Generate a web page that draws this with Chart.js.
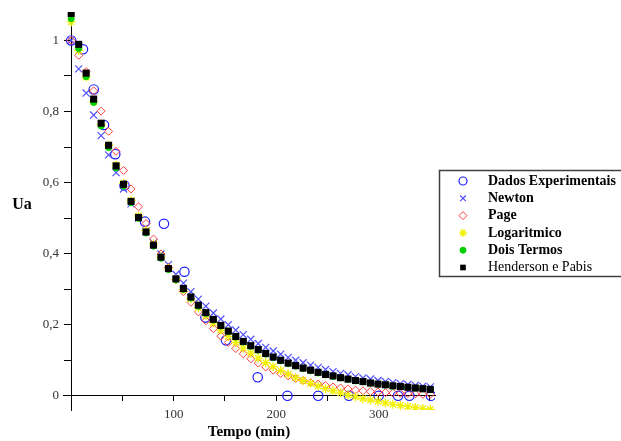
<!DOCTYPE html>
<html>
<head>
<meta charset="utf-8">
<script src="https://cdn.jsdelivr.net/npm/chart.js"></script>
<style>
  html, body { margin: 0; padding: 0; background: #ffffff; }
  #wrap { width: 621px; height: 441px; }
</style>
</head>
<body>
<div id="wrap"><canvas id="chart" width="621" height="441"></canvas></div>
<script>
// dados experimentais (tempo em min, razão de umidade)
const expTimes = [0, 11.5, 22, 32, 43, 52, 72, 90.5, 110.5, 131, 151, 182, 211, 241, 271, 300, 319, 330, 351];
const expValues = [1.0, 0.975, 0.862, 0.762, 0.68, 0.592, 0.49, 0.484, 0.349, 0.22, 0.156, 0.052, 0, 0, 0, 0, 0, 0, 0];

// tempos em que os modelos foram plotados
const modelTimes = [
  0, 7.3, 14.6, 21.9, 29.2, 36.5, 43.8, 51.1, 58.4, 65.7,
  73, 80.3, 87.6, 94.9, 102.2, 109.5, 116.8, 124.1, 131.4, 138.7,
  146, 153.3, 160.6, 167.9, 175.2, 182.5, 189.8, 197.1, 204.4, 211.7,
  219, 226.3, 233.6, 240.9, 248.2, 255.5, 262.8, 270.1, 277.4, 284.7,
  292, 299.3, 306.6, 313.9, 321.2, 328.5, 335.8, 343.1, 350.4
];

const newton = [
  1.000, 0.920, 0.852, 0.790, 0.732, 0.678, 0.628, 0.582, 0.540, 0.500,
  0.464, 0.430, 0.399, 0.369, 0.342, 0.317, 0.293, 0.272, 0.252, 0.233,
  0.216, 0.200, 0.185, 0.172, 0.159, 0.147, 0.136, 0.126, 0.117, 0.108,
  0.100, 0.093, 0.086, 0.080, 0.074, 0.068, 0.063, 0.059, 0.054, 0.050,
  0.047, 0.043, 0.040, 0.037, 0.034, 0.032, 0.029, 0.027, 0.025
];

const page = [
  1.000, 0.958, 0.912, 0.858, 0.801, 0.744, 0.688, 0.634, 0.582, 0.532,
  0.485, 0.441, 0.399, 0.361, 0.326, 0.293, 0.263, 0.236, 0.211, 0.189,
  0.168, 0.150, 0.133, 0.118, 0.104, 0.092, 0.081, 0.072, 0.063, 0.056,
  0.049, 0.043, 0.037, 0.033, 0.029, 0.025, 0.022, 0.019, 0.016, 0.014,
  0.012, 0.011, 0.009, 0.008, 0.007, 0.006, 0.005, 0.004, 0.004
];

const logaritmico = [
  1.052, 0.972, 0.897, 0.828, 0.764, 0.705, 0.649, 0.598, 0.550, 0.506,
  0.465, 0.427, 0.391, 0.358, 0.328, 0.299, 0.273, 0.248, 0.226, 0.205,
  0.185, 0.167, 0.150, 0.134, 0.120, 0.106, 0.093, 0.082, 0.071, 0.061,
  0.051, 0.043, 0.035, 0.027, 0.020, 0.014, 0.008, 0.002, -0.003, -0.008,
  -0.012, -0.016, -0.020, -0.024, -0.027, -0.030, -0.033, -0.036, -0.038
];

const doisTermos = [
  1.061, 0.977, 0.898, 0.825, 0.759, 0.698, 0.641, 0.590, 0.543, 0.499,
  0.458, 0.421, 0.387, 0.355, 0.326, 0.299, 0.275, 0.252, 0.232, 0.213,
  0.196, 0.180, 0.165, 0.151, 0.139, 0.128, 0.117, 0.107, 0.098, 0.090,
  0.083, 0.076, 0.070, 0.064, 0.059, 0.054, 0.050, 0.046, 0.042, 0.039,
  0.035, 0.032, 0.030, 0.027, 0.025, 0.023, 0.021, 0.019, 0.017
];

const henderson = [
  1.076, 0.989, 0.908, 0.835, 0.767, 0.705, 0.647, 0.595, 0.547, 0.502,
  0.461, 0.424, 0.390, 0.358, 0.329, 0.302, 0.278, 0.255, 0.234, 0.215,
  0.198, 0.182, 0.167, 0.153, 0.141, 0.130, 0.119, 0.109, 0.100, 0.092,
  0.085, 0.078, 0.072, 0.066, 0.060, 0.056, 0.051, 0.047, 0.043, 0.040,
  0.036, 0.033, 0.031, 0.028, 0.026, 0.024, 0.022, 0.020, 0.018
];

const seriesNames = ["Dados Experimentais", "Newton", "Page", "Logaritmico", "Dois Termos", "Henderson e Pabis"];
const yTickLabels = ["0", "0,2", "0,4", "0,6", "0,8", "1"];
const xTickLabels = ["100", "200", "300"];

const SERIF = "'Liberation Serif', 'Times New Roman', serif";

function toPoints(xs, ys) {
  return ys.map((y, i) => ({x: xs[i], y: y}));
}

const none = "rgba(0,0,0,0)";

const datasets = [
  {
    label: seriesNames[0],
    data: toPoints(expTimes, expValues),
    pointStyle: "circle", pointRadius: 4.7, pointBorderWidth: 1.2,
    pointBorderColor: "#1c1cff", pointBackgroundColor: none,
    order: 5,
  },
  {
    label: seriesNames[1],
    data: toPoints(modelTimes, newton),
    pointStyle: "crossRot", pointRadius: 5, pointBorderWidth: 1.2,
    pointBorderColor: "#5050ff", pointBackgroundColor: none,
    order: 4,
  },
  {
    label: seriesNames[2],
    data: toPoints(modelTimes, page),
    pointStyle: "rectRot", pointRadius: 4, pointBorderWidth: 1,
    pointBorderColor: "#ff4040", pointBackgroundColor: none,
    order: 3,
  },
  {
    label: seriesNames[3],
    data: toPoints(modelTimes, logaritmico),
    pointStyle: "star", pointRadius: 4.5, pointBorderWidth: 1.3,
    pointBorderColor: "#f0f000", pointBackgroundColor: none,
    order: 2,
  },
  {
    label: seriesNames[4],
    data: toPoints(modelTimes, doisTermos),
    pointStyle: "circle", pointRadius: 3, pointBorderWidth: 1,
    pointBorderColor: "#00d000", pointBackgroundColor: "#00d000",
    order: 1,
  },
  {
    label: seriesNames[5],
    data: toPoints(modelTimes, henderson),
    pointStyle: "rect", pointRadius: 5, pointBorderWidth: 0,
    pointBorderColor: "#000000", pointBackgroundColor: "#000000",
    order: 0,
  },
];

// textos dos eixos, rótulos do eixo y e a legenda com moldura
const extras = {
  id: "extras",
  afterDraw(chart) {
    const ctx = chart.ctx;
    const yScale = chart.scales.y;
    ctx.save();

    // rótulos do eixo y (à esquerda do eixo, que fica em x = 0)
    ctx.fillStyle = "#333";
    ctx.font = "13px " + SERIF;
    ctx.textAlign = "right";
    ctx.textBaseline = "middle";
    yScale.ticks.forEach((t) => {
      const i = Math.round(t.value * 10);
      if (i % 2 !== 0) return;
      ctx.fillText(yTickLabels[i / 2], 59, yScale.getPixelForValue(t.value));
    });

    ctx.fillStyle = "#000";
    ctx.textAlign = "center";
    ctx.font = "bold 16px " + SERIF;
    ctx.fillText("Ua", 22, 205);
    ctx.font = "bold 15px " + SERIF;
    ctx.fillText("Tempo (min)", 249, 432);

    // moldura da legenda
    ctx.strokeStyle = "#404040";
    ctx.lineWidth = 1.5;
    ctx.strokeRect(439.5, 170.5, 190, 106);

    ctx.textAlign = "left";
    datasets.forEach((ds, i) => {
      const y = 181 + i * 17.3;
      ctx.save();
      ctx.strokeStyle = ds.pointBorderColor;
      ctx.fillStyle = ds.pointBackgroundColor;
      ctx.lineWidth = ds.pointBorderWidth;
      Chart.helpers.drawPoint(ctx, {
        pointStyle: ds.pointStyle,
        radius: Math.min(ds.pointRadius, 4),
        rotation: 0,
        borderWidth: ds.pointBorderWidth,
      }, 463, y);
      ctx.restore();
      ctx.fillStyle = "#000";
      ctx.font = (i < 5 ? "bold " : "") + "14px " + SERIF;
      ctx.fillText(ds.label, 488, y);
    });
    ctx.restore();
  },
};

new Chart(document.getElementById("chart"), {
  type: "scatter",
  data: {datasets: datasets},
  options: {
    responsive: false,
    animation: false,
    events: [],
    layout: {padding: {left: 63, right: 186, top: 12, bottom: 31}},
    plugins: {legend: {display: false}, tooltip: {enabled: false}},
    scales: {
      x: {
        type: "linear",
        position: {y: 0},
        min: -8,
        max: 355,
        border: {color: "#000", width: 1},
        grid: {drawOnChartArea: false, drawTicks: true, tickLength: 5, color: "#000"},
        ticks: {
          stepSize: 50,
          includeBounds: false,
          autoSkip: false,
          maxRotation: 0,
          padding: 6,
          color: "#333",
          font: {family: SERIF, size: 13},
          callback: (v) => (v > 0 && v % 100 === 0 ? xTickLabels[v / 100 - 1] : ""),
        },
      },
      y: {
        type: "linear",
        position: {x: 0},
        min: -0.04,
        max: 1.08,
        border: {color: "#000", width: 1},
        grid: {drawOnChartArea: false, drawTicks: true, tickLength: 7, color: "#000"},
        ticks: {
          stepSize: 0.1,
          includeBounds: false,
          autoSkip: false,
          color: "#333",
          font: {family: SERIF, size: 13},
          // os rótulos são escritos pelo plugin, à esquerda do eixo
          callback: () => "",
        },
      },
    },
  },
  plugins: [extras],
});
</script>
</body>
</html>
